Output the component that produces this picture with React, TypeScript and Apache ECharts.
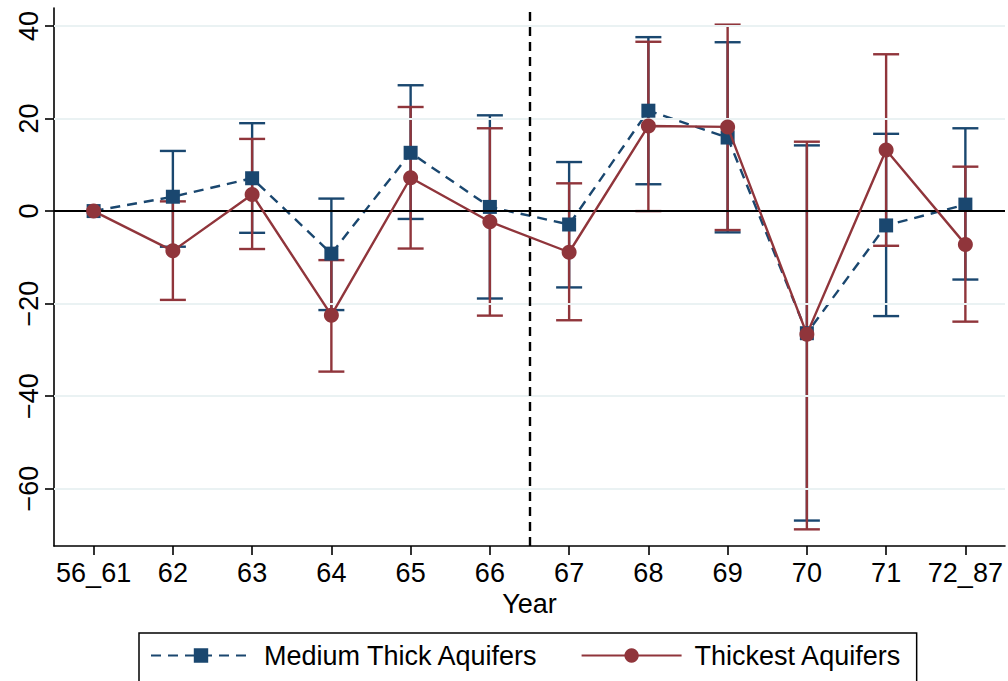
import React, { useEffect, useRef } from "react";
import * as echarts from "echarts";

const categories = ["56_61", "62", "63", "64", "65", "66", "67", "68", "69", "70", "71", "72_87"];
const mediumEst = [0, 3.1, 7.1, -9.2, 12.6, 0.9, -2.9, 21.7, 15.9, -26.4, -3.1, 1.4];
const mediumLow = [0, -7.7, -4.7, -21.4, -1.7, -18.9, -16.5, 5.8, -4.6, -66.9, -22.7, -14.8];
const mediumHigh = [0, 13.0, 19.0, 2.7, 27.2, 20.7, 10.6, 37.6, 36.5, 14.2, 16.7, 17.9];
const thickEst = [0, -8.6, 3.6, -22.5, 7.2, -2.3, -8.9, 18.4, 18.2, -26.6, 13.2, -7.2];
const thickLow = [0, -19.2, -8.2, -34.7, -8.1, -22.6, -23.6, 0.0, -4.1, -68.8, -7.5, -23.9];
const thickHigh = [0, 2.1, 15.6, -10.6, 22.5, 17.9, 6.0, 36.6, 40.3, 15.0, 33.9, 9.6];
const yTicks = [-60, -40, -20, 0, 20, 40];
const yMin = -72.4;
const yMax = 43.9;
const cutoff = 5.5;

const BLUE = "#1a476f";
const RED = "#90353b";
const FONT = "Liberation Sans, Arial, Helvetica, sans-serif";
const FS = 27;

function ciSeries(name: string, low: number[], high: number[], color: string) {
  const data = categories.map((_, i) => [i, low[i], high[i]]);
  return {
    type: "custom",
    name: name + " CI",
    silent: true,
    data,
    encode: { x: 0, y: [1, 2] },
    renderItem: (params: any, api: any) => {
      const x = api.value(0);
      const lo = api.value(1);
      const hi = api.value(2);
      if (lo === hi) return { type: "group", children: [] };
      const pLo = api.coord([x, lo]);
      const pHi = api.coord([x, hi]);
      const hw = 13;
      const style = { stroke: color, lineWidth: 2.4 };
      return {
        type: "group",
        children: [
          { type: "line", shape: { x1: pLo[0], y1: pLo[1], x2: pHi[0], y2: pHi[1] }, style },
          { type: "line", shape: { x1: pLo[0] - hw, y1: pLo[1], x2: pLo[0] + hw, y2: pLo[1] }, style },
          { type: "line", shape: { x1: pHi[0] - hw, y1: pHi[1], x2: pHi[0] + hw, y2: pHi[1] }, style },
        ],
      };
    },
    z: 3,
  };
}

export default function App() {
  const ref = useRef<HTMLDivElement>(null);
  useEffect(() => {
    if (!ref.current) return;
    const chart = echarts.init(ref.current, undefined, { renderer: "svg" });
    chart.setOption({
      animation: false,
      backgroundColor: "#ffffff",
      textStyle: { fontFamily: FONT },
      grid: { left: 54, right: 3, top: 8, bottom: 135, containLabel: false },
      xAxis: {
        type: "value",
        min: -0.5,
        max: categories.length - 0.5,
        name: "Year",
        nameLocation: "middle",
        nameGap: 42,
        nameTextStyle: { fontSize: FS, color: "#000", fontFamily: FONT },
        axisLine: { show: true, onZero: false, lineStyle: { color: "#000", width: 1.6 } },
        axisTick: {
          show: true,
          length: 9,
          lineStyle: { color: "#000", width: 1.6 },
          customValues: categories.map((_, i) => i),
        },
        axisLabel: {
          fontSize: FS,
          color: "#000",
          margin: 13,
          fontFamily: FONT,
          customValues: categories.map((_, i) => i),
          formatter: (v: number) => categories[Math.round(v)] ?? "",
        },
        splitLine: { show: false },
      },
      yAxis: {
        type: "value",
        min: yMin,
        max: yMax,
        axisLine: { show: true, onZero: false, lineStyle: { color: "#000", width: 1.6 } },
        axisTick: {
          show: true,
          length: 9,
          lineStyle: { color: "#000", width: 1.6 },
          customValues: yTicks,
        },
        axisLabel: {
          fontSize: FS,
          color: "#000",
          rotate: 90,
          margin: 12,
          fontFamily: FONT,
          customValues: yTicks,
          formatter: (v: number) => String(v).replace("-", "\u2212"),
        },
        splitLine: { show: false },
      },
      legend: {
        left: 139,
        top: 633,
        width: 781,
        padding: [9, 15, 30, 11],
        borderColor: "#000",
        borderWidth: 1.5,
        itemWidth: 100,
        itemHeight: 18,
        itemGap: 42,
        textStyle: { fontSize: FS, color: "#000", fontFamily: FONT, padding: [0, 0, 0, 8] },
        data: ["Medium Thick Aquifers", "Thickest Aquifers"],
      },
      series: [
        {
          type: "line",
          name: "grid",
          data: [],
          silent: true,
          z: 1,
          markLine: {
            silent: true,
            symbol: "none",
            label: { show: false },
            lineStyle: { color: "#eaf2f3", width: 2, type: "solid" },
            data: yTicks.filter((t) => t !== 0).map((t) => ({ yAxis: t })),
          },
        },
        {
          type: "line",
          name: "refs",
          data: [],
          silent: true,
          z: 2,
          markLine: {
            silent: true,
            symbol: "none",
            label: { show: false },
            data: [
              { yAxis: 0, lineStyle: { color: "#000", width: 2.2, type: "solid" } },
              { xAxis: cutoff, lineStyle: { color: "#000", width: 2.4, type: [9, 6] } },
            ],
          },
        },
        ciSeries("Medium Thick Aquifers", mediumLow, mediumHigh, BLUE),
        ciSeries("Thickest Aquifers", thickLow, thickHigh, RED),
        {
          type: "line",
          name: "Medium Thick Aquifers",
          data: categories.map((_, i) => [i, mediumEst[i]]),
          symbol: "rect",
          symbolSize: 14,
          itemStyle: { color: BLUE },
          lineStyle: { color: BLUE, width: 2.4, type: [10, 7] },
          z: 4,
        },
        {
          type: "line",
          name: "Thickest Aquifers",
          data: categories.map((_, i) => [i, thickEst[i]]),
          symbol: "circle",
          symbolSize: 15,
          itemStyle: { color: RED },
          lineStyle: { color: RED, width: 2.4 },
          z: 5,
        },
      ],
    });
    return () => chart.dispose();
  }, []);
  return <div ref={ref} style={{ width: 1008, height: 681, position: "absolute", left: 0, top: 0 }} />;
}
